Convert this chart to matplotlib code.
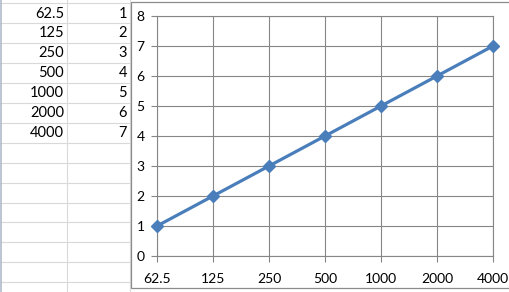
import matplotlib.pyplot as plt
from matplotlib.patches import Rectangle

# sheet data (column A / column B), also used by the chart
freq = ["62.5", "125", "250", "500", "1000", "2000", "4000"]
level = [1, 2, 3, 4, 5, 6, 7]
y_ticks = [0, 1, 2, 3, 4, 5, 6, 7, 8]

W, H = 510, 292
fig = plt.figure(figsize=(W / 100, H / 100), dpi=100)
fig.patch.set_facecolor("white")

# spreadsheet background, drawn in pixel coords
bg = fig.add_axes([0, 0, 1, 1])
bg.set_xlim(0, W)
bg.set_ylim(H, 0)
bg.axis("off")
for k in range(15):
    y = 3 + 19.95 * k
    bg.plot([0, W], [y, y], color="#d9d9d9", lw=0.8)
for x in [67, 130]:
    bg.plot([x, x], [0, H], color="#d9d9d9", lw=0.8)
bg.plot([1.5, 1.5], [0, H], color="#b0bccc", lw=1.2)

for i in range(len(freq)):
    y = 13.5 + 19.95 * i
    bg.text(64, y, freq[i], ha="right", va="center", fontsize=10.5, family="Lato")
    bg.text(127, y, str(level[i]), ha="right", va="center", fontsize=10.5, family="Lato")

# chart object box
bg.add_patch(Rectangle((131, 2), 400, 286, facecolor="white", edgecolor="#8c8c8c", lw=0.9, zorder=5))

ax = fig.add_axes([157 / W, 1 - 256 / H, 336 / W, 240 / H], zorder=2)
ax.set_facecolor("white")
xs = list(range(len(freq)))
ax.plot(xs, level, color="#4a7ebb", lw=2.3, marker="D", markersize=6.5, clip_on=False, zorder=3)

ax.set_xlim(0, len(freq) - 1)
ax.set_ylim(0, 8)
ax.set_xticks(xs)
ax.set_xticklabels(freq)
ax.set_yticks(y_ticks)
ax.grid(True, color="#868686", lw=0.8)
for s in ax.spines.values():
    s.set_color("#868686")
    s.set_linewidth(0.8)
ax.tick_params(direction="out", length=4, width=0.8, color="#868686", labelsize=10)
ax.tick_params(axis="x", pad=8)
ax.tick_params(axis="y", pad=5)
for lab in ax.get_xticklabels() + ax.get_yticklabels():
    lab.set_family("Lato")

fig.savefig("out.png", dpi=100)
